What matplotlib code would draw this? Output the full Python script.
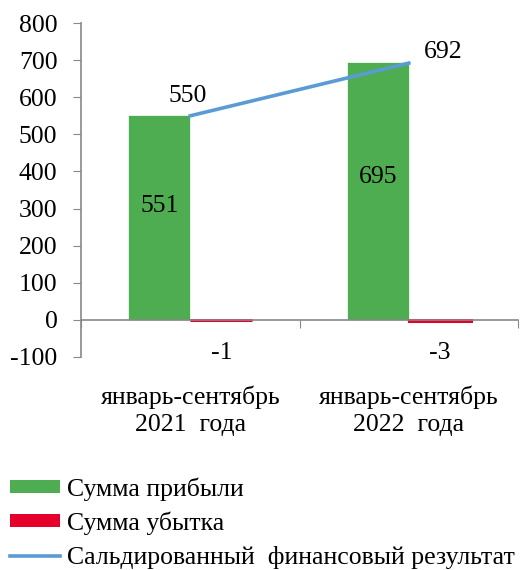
import numpy as np
from matplotlib import pyplot as plt
from matplotlib.patches import Patch
from matplotlib.lines import Line2D

plt.rcParams['font.family'] = ['Liberation Serif', 'DejaVu Serif']
plt.rcParams['axes.unicode_minus'] = False

categories = ['январь-сентябрь\n2021  года', 'январь-сентябрь\n2022  года']
profit = [551, 695]
loss = [-1, -3]
balance = [550, 692]
series_names = ['Сумма прибыли', 'Сумма убытка', 'Сальдированный  финансовый результат']

green = '#4EAD50'
red = '#E4002B'
blue = '#5B9BD5'

fig = plt.figure(figsize=(5.27, 5.70), dpi=100)
ax = fig.add_axes([0.1537, 0.3737, 0.8293, 0.5859])

x = np.arange(len(categories))
w = 0.284
ax.bar(x - w / 2, profit, width=w, color=green, edgecolor='white', linewidth=0.5, zorder=2)
ax.bar(x + w / 2, loss, width=w, color=red, edgecolor=red, linewidth=2.2, zorder=2)
ax.plot(x, balance, color=blue, linewidth=2.6, zorder=3)

fs = 18.5
# data labels
for i in range(len(x)):
    ax.text(x[i] - w / 2, profit[i] * 0.555, str(profit[i]), ha='center', va='center', fontsize=fs)
    ax.text(x[i] + w / 2, -90, str(loss[i]), ha='center', va='center', fontsize=fs)
ax.annotate(str(balance[0]), (x[0], balance[0]), xytext=(-2, 14), textcoords='offset points',
            ha='center', va='center', fontsize=fs)
ax.annotate(str(balance[1]), (x[1], balance[1]), xytext=(25, 8), textcoords='offset points',
            ha='center', va='center', fontsize=fs)

ax.set_xlim(-0.5, 1.5)
ax.set_ylim(-100, 800)
ax.set_yticks(np.arange(-100, 801, 100))
ax.tick_params(axis='y', labelsize=fs, length=6, color='#888888', pad=11)

# category axis at zero
ax.spines['bottom'].set_position(('data', 0))
ax.spines['top'].set_visible(False)
ax.spines['right'].set_visible(False)
for s in ('left', 'bottom'):
    ax.spines[s].set_color('#888888')
    ax.spines[s].set_linewidth(1.2)
ax.set_xticks([-0.5, 0.5, 1.5])
ax.set_xticklabels([])
ax.tick_params(axis='x', direction='out', length=6, color='#888888')
for i, c in enumerate(categories):
    ax.text(x[i], -245, c, ha='center', va='center', fontsize=fs, linespacing=1.28)

handles = [Patch(facecolor=green), Patch(facecolor=red), Line2D([], [], color=blue, linewidth=2.6)]
fig.legend(handles, series_names, loc='upper left', bbox_to_anchor=(0.0, 0.181), frameon=False,
           fontsize=fs, handlelength=1.95, handleheight=0.39, handletextpad=0.27, labelspacing=0.42,
           borderaxespad=0.0)

fig.savefig('out.png', dpi=100)
